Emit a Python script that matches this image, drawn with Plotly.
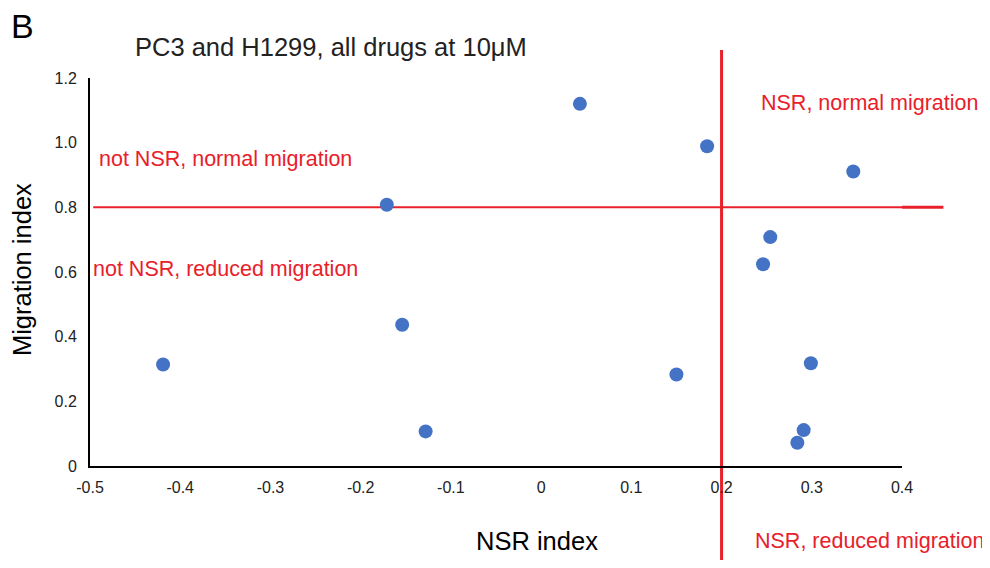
import plotly.graph_objects as go

# Data
nsr_index = [-0.419, -0.171, -0.154, -0.128, 0.043, 0.150, 0.184, 0.346, 0.254, 0.246, 0.299, 0.291, 0.284]
migration_index = [0.314, 0.808, 0.437, 0.107, 1.12, 0.283, 0.989, 0.911, 0.708, 0.624, 0.318, 0.111, 0.072]

x_tickvals = [-0.5, -0.4, -0.3, -0.2, -0.1, 0, 0.1, 0.2, 0.3, 0.4]
x_ticktext = ["-0.5", "-0.4", "-0.3", "-0.2", "-0.1", "0", "0.1", "0.2", "0.3", "0.4"]
y_tickvals = [0, 0.2, 0.4, 0.6, 0.8, 1.0, 1.2]
y_ticktext = ["0", "0.2", "0.4", "0.6", "0.8", "1.0", "1.2"]

nsr_threshold = 0.2
migration_threshold = 0.8

RED = "#E8202A"
BLUE = "#4472C4"
FONT = "Liberation Sans, Arial, sans-serif"

fig = go.Figure()
fig.add_trace(go.Scatter(
    x=nsr_index, y=migration_index, mode="markers",
    marker=dict(size=14, color=BLUE, line=dict(width=0)),
    showlegend=False, cliponaxis=False,
))

# Threshold lines
fig.add_shape(type="line", xref="x", yref="paper", x0=nsr_threshold, x1=nsr_threshold,
              y0=-0.3, y1=1.072, line=dict(color=RED, width=3), layer="below")
fig.add_shape(type="line", xref="paper", yref="y", x0=0.004, x1=1.0,
              y0=migration_threshold, y1=migration_threshold,
              line=dict(color=RED, width=2), layer="below")
fig.add_shape(type="line", xref="paper", yref="y", x0=1.0, x1=1.051,
              y0=migration_threshold, y1=migration_threshold,
              line=dict(color=RED, width=3), layer="below")

annotations = [
    dict(text="B", x=-0.1, y=1.135, xanchor="left", yanchor="middle", font=dict(size=34, color="black")),
    dict(text="PC3 and H1299, all drugs at 10μM", x=0.053, y=1.080, xanchor="left", yanchor="middle",
         font=dict(size=25.5, color="#222222")),
    dict(text="not NSR, normal migration", x=0.0086, y=0.791, xanchor="left", yanchor="middle",
         font=dict(size=21.5, color=RED)),
    dict(text="not NSR, reduced migration", x=0.0012, y=0.508, xanchor="left", yanchor="middle",
         font=dict(size=21.5, color=RED)),
    dict(text="NSR, normal migration", x=1.096, y=0.9356, xanchor="right", yanchor="middle",
         font=dict(size=21.5, color=RED)),
    dict(text="NSR, reduced migration", x=1.1035, y=-0.193, xanchor="right", yanchor="middle",
         font=dict(size=21.5, color=RED)),
    dict(text="NSR index", x=0.5505, y=-0.193, xanchor="center", yanchor="middle",
         font=dict(size=25.5, color="black")),
    dict(text="Migration index", x=-0.0837, y=0.505, xanchor="center", yanchor="middle", textangle=-90,
         font=dict(size=25.5, color="black")),
]
for a in annotations:
    a.update(xref="paper", yref="paper", showarrow=False)
    a["font"]["family"] = FONT

fig.update_layout(
    width=982, height=552,
    margin=dict(l=82, r=88, t=70, b=94, autoexpand=False),
    paper_bgcolor="white", plot_bgcolor="white",
    font=dict(family=FONT, color="black"),
    annotations=annotations,
    xaxis=dict(range=[-0.5, 0.4], tickvals=x_tickvals, ticktext=x_ticktext,
               showgrid=False, zeroline=False, showline=True, linecolor="black", linewidth=2,
               ticks="", tickfont=dict(size=16, color="#222222"), ticklabelstandoff=6),
    yaxis=dict(range=[0, 1.2], tickvals=y_tickvals, ticktext=y_ticktext,
               showgrid=False, zeroline=False, showline=True, linecolor="black", linewidth=2,
               ticks="", tickfont=dict(size=16, color="#222222"), ticklabelstandoff=8),
)

fig.write_html("out.html")
